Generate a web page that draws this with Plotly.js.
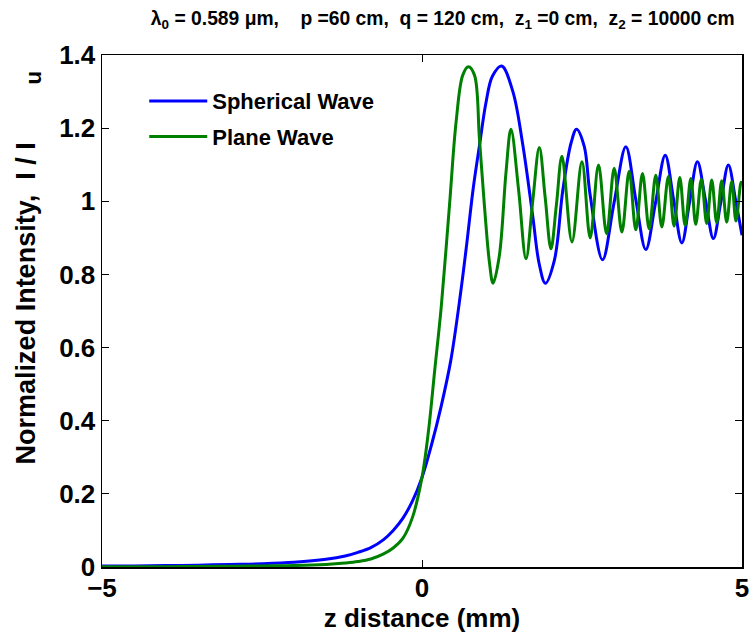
<!DOCTYPE html>
<html>
<head>
<meta charset="utf-8">
<script src="https://cdn.plot.ly/plotly-3.0.1.min.js"></script>
<style>html,body{margin:0;padding:0;background:#fff;}#chart{width:755px;height:636px;}</style>
</head>
<body>
<div id="chart"></div>
<script>
// z distance (mm) and normalized intensity
var zSpherical = [-5, -4.5, -4, -3.5, -3, -2.5, -2, -1.5, -1.2, -1.0,
  -0.8, -0.6, -0.45, -0.3, -0.15, 0, 0.15, 0.3, 0.45, 0.6,
  0.7, 0.8, 0.9, 1.0, 1.1, 1.245, 1.42, 1.57, 1.73, 1.83,
  1.927, 2.07, 2.2, 2.33, 2.415, 2.535, 2.625, 2.821, 3.0, 3.185,
  3.34, 3.497, 3.65, 3.80, 3.93, 4.06, 4.18, 4.303, 4.43, 4.553,
  4.67, 4.787, 4.9, 5.0];
var iSpherical = [0.003, 0.003, 0.004, 0.005, 0.007, 0.009, 0.013, 0.021, 0.030, 0.040,
  0.053, 0.075, 0.100, 0.133, 0.180, 0.245, 0.335, 0.44, 0.565, 0.745,
  0.885, 1.035, 1.155, 1.27, 1.342, 1.37, 1.30, 1.16, 0.96, 0.83,
  0.776, 0.84, 1.03, 1.16, 1.197, 1.15, 1.02, 0.84, 0.995, 1.149,
  1.005, 0.868, 0.997, 1.126, 1.006, 0.886, 0.997, 1.108, 1.003, 0.898,
  0.998, 1.099, 1.003, 0.907];

var zPlane = [-5, -4, -3, -2.5, -2, -1.5, -1.2, -1.0, -0.8, -0.6,
  -0.45, -0.3, -0.15, 0, 0.1, 0.2, 0.3, 0.43, 0.533, 0.637,
  0.725, 0.82, 0.897, 0.975, 1.053, 1.11, 1.209, 1.313, 1.39, 1.51,
  1.625, 1.73, 1.833, 1.925, 2.015, 2.10, 2.187, 2.343, 2.499, 2.628,
  2.758, 2.884, 3.003, 3.123, 3.237, 3.341, 3.445, 3.549, 3.653, 3.747,
  3.85, 3.939, 4.028, 4.111, 4.2, 4.277, 4.365, 4.449, 4.527, 4.605,
  4.683, 4.761, 4.839, 4.906, 4.985, 5.0];
var iPlane = [0.001, 0.001, 0.002, 0.003, 0.004, 0.007, 0.011, 0.015, 0.022, 0.036,
  0.052, 0.078, 0.135, 0.245, 0.37, 0.54, 0.71, 0.99, 1.217, 1.345,
  1.368, 1.345, 1.172, 0.989, 0.834, 0.776, 0.852, 1.08, 1.197, 1.03,
  0.843, 1.0, 1.147, 1.01, 0.870, 0.99, 1.123, 0.889, 1.108, 0.900,
  1.099, 0.911, 1.090, 0.916, 1.082, 0.922, 1.076, 0.925, 1.071, 0.930,
  1.068, 0.932, 1.065, 0.934, 1.062, 0.937, 1.060, 0.939, 1.058, 0.941,
  1.056, 0.943, 1.054, 0.946, 1.052, 1.045];

var seriesNames = ["Spherical Wave", "Plane Wave"];
var xTicks = [-5, 0, 5];
var yTicks = [0, 0.2, 0.4, 0.6, 0.8, 1, 1.2, 1.4];

var FONT = "Liberation Sans, Arial, Helvetica, sans-serif";

var traces = [
  {x: zSpherical, y: iSpherical, name: seriesNames[0], mode: "lines", legendgroup: "a",
   line: {color: "#0000ff", width: 3, shape: "spline", smoothing: 1}},
  {x: zPlane, y: iPlane, name: seriesNames[1], mode: "lines", legendgroup: "b",
   line: {color: "#008000", width: 3, shape: "spline", smoothing: 1}}
];

var axisCommon = {
  showline: true, linecolor: "#000", linewidth: 1.5, mirror: "ticks",
  ticks: "inside", ticklen: 7, tickwidth: 1, tickcolor: "#000",
  showgrid: false, zeroline: false,
  tickfont: {family: FONT, size: 26, color: "#000", weight: "bold"}
};

var layout = {
  width: 755, height: 636,
  margin: {l: 102, r: 13, t: 55, b: 69},
  paper_bgcolor: "#fff", plot_bgcolor: "#fff",
  showlegend: true,
  title: {
    text: "λ<sub>0</sub> = 0.589 μm, &nbsp; &nbsp;p =60 cm, &nbsp;q = 120 cm, &nbsp;z<sub>1</sub> =0 cm, &nbsp;z<sub>2</sub> = 10000 cm",
    font: {family: FONT, size: 19.3, color: "#000", weight: "bold"},
    x: 0.1998, xanchor: "left", y: 0.972, yanchor: "middle", xref: "container", yref: "container"
  },
  xaxis: Object.assign({}, axisCommon, {
    range: [-5, 5], tickvals: xTicks, ticklabelstandoff: -3,
    title: {text: "z distance (mm)", font: {family: FONT, size: 26, color: "#000", weight: "bold"}, standoff: 0}
  }),
  yaxis: Object.assign({}, axisCommon, {
    range: [0, 1.4], tickvals: yTicks
  }),
  legend: {
    x: 0.066, y: 0.951, xanchor: "left", yanchor: "top",
    bgcolor: "rgba(0,0,0,0)", borderwidth: 0,
    traceorder: "grouped", tracegroupgap: 4, itemwidth: 58,
    font: {family: FONT, size: 22, color: "#000", weight: "bold"}
  },
  annotations: [{
    text: "Normalized Intensity,&nbsp; I / I<sub>&nbsp;&nbsp;&nbsp;&nbsp;&nbsp;&nbsp;&nbsp;&nbsp;&nbsp;&nbsp;&nbsp;<span style=\"font-size:22px\">u</span></sub>",
    xref: "paper", yref: "paper", x: -0.115, y: (567 - 268) / 512,
    xanchor: "center", yanchor: "middle", textangle: -90, showarrow: false,
    font: {family: FONT, size: 27, color: "#000", weight: "bold"}
  }]
};

Plotly.newPlot("chart", traces, layout, {displayModeBar: false, staticPlot: true});
</script>
</body>
</html>
